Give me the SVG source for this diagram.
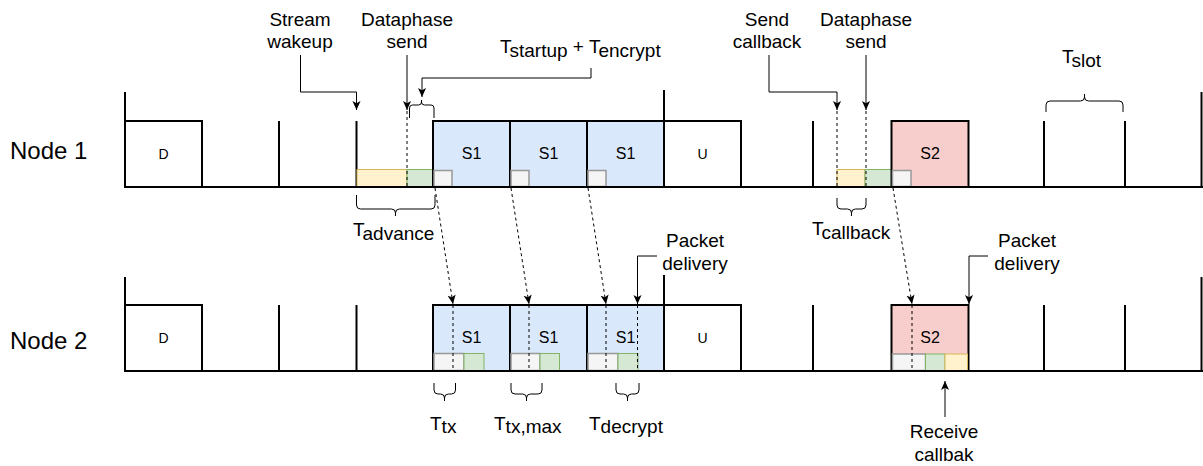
<svg xmlns="http://www.w3.org/2000/svg" width="1203" height="466" viewBox="0 0 1203 466">
  <style>
    text { font-family: "Liberation Sans", Arial, sans-serif; fill: #000; }
    .lbl { font-size: 19px; }
    .node-name { font-size: 24px; }
    .slot-txt { font-size: 16px; text-anchor: middle; }
    .small-txt { font-size: 14px; text-anchor: middle; }
    .mid { text-anchor: middle; }
    .axis { stroke: #000; stroke-width: 2; fill: none; }
    .box { stroke: #000; stroke-width: 2; fill: #fff; }
    .s1 { fill: #dae8fc; }
    .s2 { fill: #f8cecc; }
    .yel { fill: #fff2cc; stroke: #d6b656; stroke-width: 1; }
    .grn { fill: #d5e8d4; stroke: #82b366; stroke-width: 1; }
    .gry { fill: #f5f5f5; stroke: #999; stroke-width: 1.5; }
    .conn { stroke: #000; stroke-width: 1; fill: none; }
    .dash { stroke: #000; stroke-width: 1; fill: none; stroke-dasharray: 3 3; }
    .brace { stroke: #000; stroke-width: 1; fill: none; }
  </style>
  <defs>
    <marker id="arrow" viewBox="0 0 10 10" refX="10" refY="5" markerWidth="9" markerHeight="9" markerUnits="userSpaceOnUse" orient="auto">
      <path d="M0,0.5 L10,5 L0,9.5 L2.5,5 z" fill="#000"/>
    </marker>
  </defs>

  <rect width="1203" height="466" fill="#fff"/>

  <!-- Node 1 timeline -->
  <g id="node1">
    <text class="node-name" x="10" y="159">Node 1</text>
    <rect class="box" x="125" y="121" width="77" height="66"/>
    <text class="small-txt" x="163.5" y="159">D</text>
    <line class="axis" x1="125" y1="92" x2="125" y2="187"/>
    <line class="axis" x1="279" y1="121" x2="279" y2="187"/>
    <line class="axis" x1="356.5" y1="121" x2="356.5" y2="187"/>
    <rect class="yel" x="357" y="169.5" width="50" height="17"/>
    <rect class="grn" x="407" y="169.5" width="26" height="17"/>
    <rect class="box s1" x="433" y="121" width="77" height="66"/>
    <rect class="box s1" x="510" y="121" width="77" height="66"/>
    <rect class="box s1" x="587" y="121" width="77" height="66"/>
    <rect class="gry" x="434" y="170.5" width="18" height="16"/>
    <rect class="gry" x="511" y="170.5" width="18" height="16"/>
    <rect class="gry" x="588" y="170.5" width="18" height="16"/>
    <text class="slot-txt" x="471.5" y="159">S1</text>
    <text class="slot-txt" x="548.5" y="159">S1</text>
    <text class="slot-txt" x="625.5" y="159">S1</text>
    <line class="axis" x1="664" y1="90" x2="664" y2="187"/>
    <rect class="box" x="664" y="121" width="77" height="66"/>
    <text class="small-txt" x="702.5" y="159">U</text>
    <line class="axis" x1="813" y1="121" x2="813" y2="187"/>
    <rect class="yel" x="837" y="169.5" width="28" height="17"/>
    <rect class="grn" x="865" y="169.5" width="26.5" height="17"/>
    <rect class="box s2" x="891.5" y="121" width="77" height="66"/>
    <rect class="gry" x="892.5" y="170.5" width="18.5" height="16"/>
    <text class="slot-txt" x="930" y="159">S2</text>
    <line class="axis" x1="1044" y1="121" x2="1044" y2="187"/>
    <line class="axis" x1="1125" y1="121" x2="1125" y2="187"/>
    <line class="axis" x1="1201.5" y1="92" x2="1201.5" y2="187"/>
    <line class="axis" x1="124" y1="187" x2="1203" y2="187"/>
  </g>

  <!-- Node 2 timeline -->
  <g id="node2">
    <text class="node-name" x="10" y="349">Node 2</text>
    <rect class="box" x="125" y="305" width="77" height="66"/>
    <text class="small-txt" x="163.5" y="343">D</text>
    <line class="axis" x1="125" y1="277" x2="125" y2="371"/>
    <line class="axis" x1="279" y1="305" x2="279" y2="371"/>
    <line class="axis" x1="356.5" y1="305" x2="356.5" y2="371"/>
    <rect class="box s1" x="433" y="305" width="77" height="66"/>
    <rect class="box s1" x="510" y="305" width="77" height="66"/>
    <rect class="box s1" x="587" y="305" width="77" height="66"/>
    <rect class="gry" x="434" y="353.5" width="30" height="17"/>
    <rect class="grn" x="464" y="353.5" width="20" height="17"/>
    <rect class="gry" x="511" y="353.5" width="29" height="17"/>
    <rect class="grn" x="540" y="353.5" width="19.5" height="17"/>
    <rect class="gry" x="588" y="353.5" width="30" height="17"/>
    <rect class="grn" x="618" y="353.5" width="20" height="17"/>
    <text class="slot-txt" x="471.5" y="343">S1</text>
    <text class="slot-txt" x="548.5" y="343">S1</text>
    <text class="slot-txt" x="625.5" y="343">S1</text>
    <line class="axis" x1="664" y1="275" x2="664" y2="371"/>
    <rect class="box" x="664" y="305" width="77" height="66"/>
    <text class="small-txt" x="702.5" y="343">U</text>
    <line class="axis" x1="813" y1="305" x2="813" y2="371"/>
    <rect class="box s2" x="891.5" y="305" width="77" height="66"/>
    <rect class="gry" x="892.5" y="354" width="33" height="16.5"/>
    <rect class="grn" x="925.5" y="354" width="19.5" height="16.5"/>
    <rect class="yel" x="945" y="354" width="22.5" height="16.5"/>
    <text class="slot-txt" x="930" y="343">S2</text>
    <line class="axis" x1="1044" y1="305" x2="1044" y2="371"/>
    <line class="axis" x1="1125" y1="305" x2="1125" y2="371"/>
    <line class="axis" x1="1201.5" y1="277" x2="1201.5" y2="371"/>
    <line class="axis" x1="124" y1="371" x2="1203" y2="371"/>
  </g>

  <!-- Event labels -->
  <g id="label-stream-wakeup">
    <text class="lbl mid" x="300" y="26">Stream</text>
    <text class="lbl mid" x="300" y="48">wakeup</text>
  </g>
  <g id="label-dataphase-send-1">
    <text class="lbl mid" x="407" y="26">Dataphase</text>
    <text class="lbl mid" x="407" y="48">send</text>
  </g>
  <g id="label-startup-encrypt">
    <text class="lbl" x="500" y="53" xml:space="preserve">T<tspan dy="4">startup</tspan><tspan dy="-4"> + T</tspan><tspan dy="4">encrypt</tspan></text>
  </g>
  <g id="label-send-callback">
    <text class="lbl mid" x="767" y="26">Send</text>
    <text class="lbl mid" x="767" y="48">callback</text>
  </g>
  <g id="label-dataphase-send-2">
    <text class="lbl mid" x="866" y="26">Dataphase</text>
    <text class="lbl mid" x="866" y="48">send</text>
  </g>
  <g id="label-slot">
    <text class="lbl" x="1062" y="63">T<tspan dy="4">slot</tspan></text>
  </g>
  <g id="label-advance">
    <text class="lbl" x="353" y="236">T<tspan dy="4">advance</tspan></text>
  </g>
  <g id="label-callback">
    <text class="lbl" x="812" y="235">T<tspan dy="4">callback</tspan></text>
  </g>
  <g id="label-packet-delivery-1">
    <text class="lbl mid" x="695" y="247">Packet</text>
    <text class="lbl mid" x="695" y="270">delivery</text>
  </g>
  <g id="label-packet-delivery-2">
    <text class="lbl mid" x="1027" y="247">Packet</text>
    <text class="lbl mid" x="1027" y="270">delivery</text>
  </g>
  <g id="label-tx">
    <text class="lbl" x="430" y="430">T<tspan dy="3">tx</tspan></text>
  </g>
  <g id="label-tx-max">
    <text class="lbl" x="494" y="430">T<tspan dy="3">tx,max</tspan></text>
  </g>
  <g id="label-decrypt">
    <text class="lbl" x="589" y="430">T<tspan dy="3">decrypt</tspan></text>
  </g>
  <g id="label-receive-callback">
    <text class="lbl mid" x="944" y="438">Receive</text>
    <text class="lbl mid" x="944" y="461">callbak</text>
  </g>

  <!-- Braces marking time spans -->
  <g id="braces">
    <!-- Tstartup + Tencrypt (opens downward, tip up) -->
    <path class="brace" d="M409.5,118 V108 Q409.5,105 412.5,105 H418.5 Q421.5,105 421.5,102 V100 M421.5,102 Q421.5,105 424.5,105 H431 Q434,105 434,108 V118"/>
    <!-- Tslot -->
    <path class="brace" d="M1046,112 V105 Q1046,101 1050,101 H1080.5 Q1084.5,101 1084.5,97 V94 M1084.5,97 Q1084.5,101 1088.5,101 H1119 Q1123,101 1123,105 V112"/>
    <!-- Tadvance -->
    <path class="brace" d="M356.5,195 V205 Q356.5,209 360.5,209 H391.5 Q395.5,209 395.5,213 V216 M395.5,213 Q395.5,209 399.5,209 H431 Q435,209 435,205 V195"/>
    <!-- Tcallback -->
    <path class="brace" d="M837,198 V205 Q837,209 841,209 H847.5 Q851.5,209 851.5,213 V216 M851.5,213 Q851.5,209 855.5,209 H862 Q866,209 866,205 V198"/>
    <!-- Ttx -->
    <path class="brace" d="M434,383 V390 Q434,394 438,394 H440.5 Q444.5,394 444.5,398 V401 M444.5,398 Q444.5,394 448.5,394 H451.5 Q455.5,394 455.5,390 V383"/>
    <!-- Ttx,max -->
    <path class="brace" d="M511,383 V390 Q511,394 515,394 H522.5 Q526.5,394 526.5,398 V401 M526.5,398 Q526.5,394 530.5,394 H538 Q542,394 542,390 V383"/>
    <!-- Tdecrypt -->
    <path class="brace" d="M616,383 V390 Q616,394 620,394 H623.5 Q627.5,394 627.5,398 V401 M627.5,398 Q627.5,394 631.5,394 H635 Q639,394 639,390 V383"/>
  </g>

  <!-- Connectors -->
  <g id="connectors">
    <path class="conn" d="M300.5,55 V92 H356.5 V110" marker-end="url(#arrow)"/>
    <path class="conn" d="M407,55 V110" marker-end="url(#arrow)"/>
    <path class="dash" d="M407,111 V187"/>
    <path class="conn" d="M591,68 V78 H422 V97" marker-end="url(#arrow)"/>
    <path class="conn" d="M769,55 V92 H837 V110" marker-end="url(#arrow)"/>
    <path class="dash" d="M837,111 V187"/>
    <path class="conn" d="M866,55 V110" marker-end="url(#arrow)"/>
    <path class="dash" d="M866,111 V187"/>

    <!-- transmissions from Node 1 to Node 2 -->
    <path class="dash" d="M435,188 L453,304" marker-end="url(#arrow)"/>
    <path class="dash" d="M511,188 L529,304" marker-end="url(#arrow)"/>
    <path class="dash" d="M588,188 L606,304" marker-end="url(#arrow)"/>
    <path class="dash" d="M893,188 L912,304" marker-end="url(#arrow)"/>
    <path class="dash" d="M453,305 V371"/>
    <path class="dash" d="M529,305 V371"/>
    <path class="dash" d="M606,305 V371"/>
    <path class="dash" d="M912,305 V371"/>

    <path class="conn" d="M657,256 H637.5 V304" marker-end="url(#arrow)"/>
    <path class="dash" d="M637.5,305 V371"/>
    <path class="conn" d="M988,256 H969 V304" marker-end="url(#arrow)"/>
    <path class="conn" d="M945,417 V381" marker-end="url(#arrow)"/>
  </g>
</svg>
